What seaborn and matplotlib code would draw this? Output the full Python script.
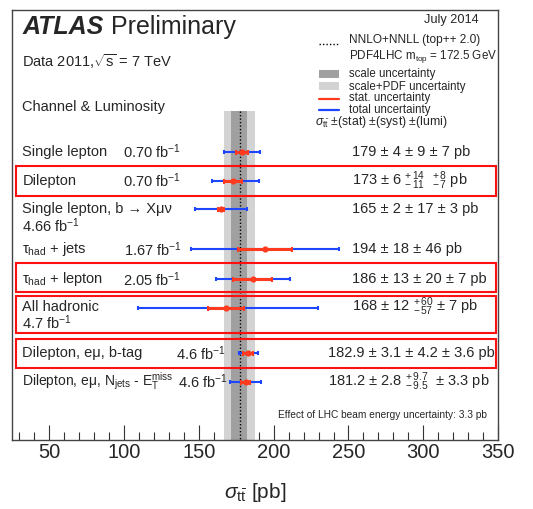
import numpy as np
import pandas as pd
import matplotlib
matplotlib.use("Agg")
import matplotlib.pyplot as plt
import seaborn as sns
from matplotlib.ticker import MultipleLocator
from matplotlib.patches import Rectangle

# ---------------- data ----------------
channels = ["Single lepton", "Dilepton", "Single lepton, b \u2192 X\u03bc\u03bd",
            "\u03c4$_{\\mathrm{had}}$ + jets", "\u03c4$_{\\mathrm{had}}$ + lepton",
            "All hadronic", "Dilepton, e\u03bc, b-tag",
            "Dilepton, e\u03bc, N$_{\\mathrm{jets}}$ - $\\mathrm{E}_{\\mathrm{T}}^{\\mathrm{miss}}$"]
lumis = ["0.70 fb$^{-1}$", "0.70 fb$^{-1}$", "4.66 fb$^{-1}$", "1.67 fb$^{-1}$",
         "2.05 fb$^{-1}$", "4.7 fb$^{-1}$", "4.6 fb$^{-1}$", "4.6 fb$^{-1}$"]
xsec = [179, 173, 165, 194, 186, 168, 182.9, 181.2]
stat = [4, 6, 2, 18, 13, 12, 3.1, 2.8]
syst_up = [9, 14, 17, 46, 20, 60, 4.2, 9.7]
syst_dn = [9, 11, 17, 46, 20, 57, 4.2, 9.5]
lumi_up = [7, 8, 3, 0, 7, 7, 3.6, 3.3]
lumi_dn = [7, 7, 3, 0, 7, 7, 3.6, 3.3]
value_labels = ["179 \u00b1 4 \u00b1 9 \u00b1 7 pb",
                "173 \u00b1 6 ${}^{+\\,14}_{-\\,11}$  ${}^{+\\,8}_{-\\,7}$ pb",
                "165 \u00b1 2 \u00b1 17 \u00b1 3 pb",
                "194 \u00b1 18 \u00b1 46 pb",
                "186 \u00b1 13 \u00b1 20 \u00b1 7 pb",
                "168 \u00b1 12 ${}^{+\\,60}_{-\\,57}$ \u00b1 7 pb",
                "182.9 \u00b1 3.1 \u00b1 4.2 \u00b1 3.6 pb",
                "181.2 \u00b1 2.8 ${}^{+\\,9.7}_{-\\,9.5}$  \u00b1 3.3 pb"]

theory_central = 177.3
theory_scale = (171.3, 181.9)
theory_scale_pdf = (166.5, 187.4)

# ---------------- style ----------------
sns.set_theme(style="white")
plt.rcParams["font.family"] = ["Liberation Sans", "DejaVu Sans"]
plt.rcParams["mathtext.fontset"] = "custom"
plt.rcParams["mathtext.rm"] = "Liberation Sans"
plt.rcParams["mathtext.it"] = "Liberation Sans:italic"
plt.rcParams["mathtext.bf"] = "Liberation Sans:bold"

BLUE = "#1e46ff"
RED = "#ff3a1e"
DARK = "#a0a0a0"
LIGHT = "#d3d3d3"

W, H = 533, 509
fig = plt.figure(figsize=(W / 100, H / 100), dpi=100)
fig.patch.set_facecolor("white")

# main axes in pixel geometry: left 12, right 498, top 10, bottom 440
ax = fig.add_axes([12 / W, (H - 440) / H, (498 - 12) / W, (440 - 10) / H])
ax.set_xlim(25, 350)
ax.set_ylim(440, 10)  # y data == pixel rows

row_y = [151.7, 180.7, 209.3, 249.3, 279.3, 307.7, 353.3, 381.7]

# theory bands
band_y = [111, 440]
ax.fill_betweenx(band_y, theory_scale_pdf[0], theory_scale_pdf[1], color=LIGHT, lw=0, zorder=1)
ax.fill_betweenx(band_y, theory_scale[0], theory_scale[1], color=DARK, lw=0, zorder=2)
ax.plot([theory_central, theory_central], band_y, color="black", ls=(0, (1, 1.5)), lw=1.0, zorder=3)

df = pd.DataFrame({"xsec": xsec, "stat": stat, "syst_up": syst_up, "syst_dn": syst_dn,
                   "lumi_up": lumi_up, "lumi_dn": lumi_dn, "y": row_y})
df["tot_up"] = np.sqrt(df.stat ** 2 + df.syst_up ** 2 + df.lumi_up ** 2)
df["tot_dn"] = np.sqrt(df.stat ** 2 + df.syst_dn ** 2 + df.lumi_dn ** 2)

ax.errorbar(df.xsec, df.y, xerr=[df.tot_dn, df.tot_up], fmt="none", ecolor=BLUE,
            elinewidth=1.5, capsize=1.6, capthick=1.5, zorder=4)
ax.errorbar(df.xsec, df.y, xerr=[df.stat, df.stat], fmt="none", ecolor=RED,
            elinewidth=2.2, capsize=1.8, capthick=1.5, zorder=5)
sns.scatterplot(data=df, x="xsec", y="y", ax=ax, color=RED, s=20, edgecolor=RED,
                linewidth=0, zorder=6, legend=False)

# axis styling
for side in ["left", "right", "top", "bottom"]:
    ax.spines[side].set_color("#444444")
    ax.spines[side].set_linewidth(1.0)
ax.xaxis.set_major_locator(MultipleLocator(50))
ax.xaxis.set_minor_locator(MultipleLocator(10))
ax.tick_params(axis="x", which="major", direction="in", length=11, width=0.8, color="#333333",
               labelsize=14.5, pad=2, top=False, bottom=True)
ax.tick_params(axis="x", which="minor", direction="in", length=5.5, width=0.8, color="#333333",
               top=False, bottom=True)
ax.set_yticks([])
ax.set_ylabel("")
ax.set_xlabel("$\\sigma_{\\mathrm{t\\bar{t}}}$ [pb]", fontsize=15, labelpad=14)
ax.set_facecolor("white")

# ---------------- overlay (pixel coordinates) ----------------
ov = fig.add_axes([0, 0, 1, 1], zorder=10)
ov.set_xlim(0, W)
ov.set_ylim(H, 0)
ov.axis("off")

ov.text(22.5, 34, "ATLAS", fontsize=18, fontweight="bold", fontstyle="italic", va="baseline")
ov.text(111, 34, "Preliminary", fontsize=18, va="baseline")
ov.text(22.5, 66.5, "Data 2011,$\\sqrt{\\mathrm{s}}$ = 7 TeV", fontsize=10.5, va="baseline")
ov.text(22.5, 110.5, "Channel & Luminosity", fontsize=10.5, va="baseline")
ov.text(479, 23, "July 2014", fontsize=9.2, ha="right", va="baseline")

# legend
ov.plot([319, 339], [44, 44], color="black", ls=(0, (1, 1.5)), lw=1.0)
ov.text(349, 40, "NNLO+NNLL (top++ 2.0)", fontsize=8.6, va="center")
ov.text(349, 56, "PDF4LHC m$_{\\mathrm{top}}$ = 172.5 GeV", fontsize=8.4, va="center")
ov.add_patch(Rectangle((319, 70), 20, 7.7, color=DARK, lw=0))
ov.add_patch(Rectangle((319, 82), 20, 8, color=LIGHT, lw=0))
ov.plot([319, 339], [99, 99], color=RED, lw=1.6)
ov.plot([319, 339], [110, 110], color=BLUE, lw=1.6)
ov.text(349, 74, "scale uncertainty", fontsize=8.3, va="center")
ov.text(349, 86.5, "scale+PDF uncertainty", fontsize=8.3, va="center")
ov.text(349, 98, "stat. uncertainty", fontsize=8.3, va="center")
ov.text(349, 109.5, "total uncertainty", fontsize=8.3, va="center")
ov.text(315, 122, "$\\sigma_{\\mathrm{t\\bar{t}}}$ \u00b1(stat) \u00b1(syst) \u00b1(lumi)", fontsize=8.8, va="center")

# row labels
label_y = [151.7, 180.7, 208.5, 249.3, 279.3, 307.0, 353.3, 381.7]
label_size = [10.5, 10.5, 10.5, 10.5, 10.5, 10.5, 10.5, 10.0]
lumi_pos = [(123, 151.7), (123, 180.7), (22.5, 225.5), (124, 249.3), (123, 279.3),
            (22.5, 323), (176.5, 353.3), (178, 381.7)]
val_x = [352, 352, 352, 352, 352, 352, 328, 328]
for i in range(len(channels)):
    ov.text(22.5, label_y[i], channels[i], fontsize=label_size[i], va="center")
    ov.text(lumi_pos[i][0], lumi_pos[i][1], lumis[i], fontsize=10.5, va="center")
    ov.text(val_x[i], label_y[i], value_labels[i], fontsize=10.5, va="center")

# highlight boxes
boxes = [(166, 195.7), (263.3, 292.3), (295.7, 332.7), (339, 367.7)]
for (y0, y1) in boxes:
    ov.add_patch(Rectangle((16, y0), 495.7 - 16, y1 - y0, fill=False, edgecolor="#ff1010", lw=1.5))

ov.text(487, 415, "Effect of LHC beam energy uncertainty: 3.3 pb", fontsize=7.3, ha="right", va="center")

fig.savefig("out.png", dpi=100, facecolor="white")
